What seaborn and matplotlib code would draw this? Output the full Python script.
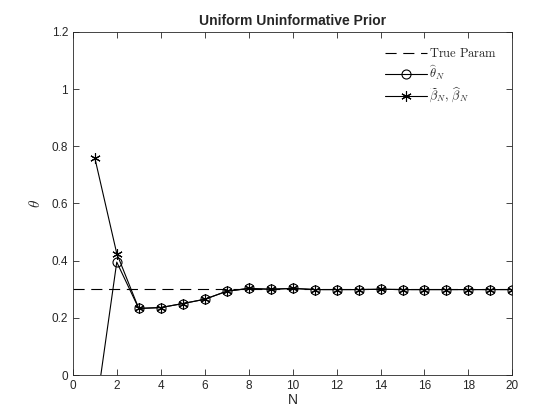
import numpy as np
import pandas as pd
import matplotlib
matplotlib.use("Agg")
import matplotlib.pyplot as plt
import seaborn as sns

# values
N = list(range(1, 21))
theta_hat = [-0.15, 0.395, 0.233, 0.236, 0.250, 0.265, 0.293, 0.303, 0.300, 0.303,
             0.299, 0.299, 0.299, 0.300, 0.299, 0.299, 0.299, 0.299, 0.299, 0.299]
beta_est = [0.76, 0.425, 0.233, 0.236, 0.250, 0.265, 0.293, 0.303, 0.300, 0.303,
            0.299, 0.299, 0.299, 0.300, 0.299, 0.299, 0.299, 0.299, 0.299, 0.299]
true_param = 0.3

sns.set_style("ticks")
plt.rcParams['font.family'] = ['Liberation Sans', 'DejaVu Sans']
plt.rcParams['mathtext.fontset'] = 'cm'

df = pd.DataFrame({"N": N, "theta": theta_hat, "beta": beta_est})

fig = plt.figure(figsize=(5.6, 4.2), dpi=100)
ax = fig.add_axes([0.13, 0.107, 0.785, 0.817])

ax.axhline(true_param, color="black", lw=0.8, ls=(0, (10, 6)), label=r"$\mathrm{True\ Param}$")
sns.lineplot(data=df, x="N", y="theta", ax=ax, color="black", lw=0.8, marker="o",
             markersize=6.5, markerfacecolor="none", markeredgecolor="black",
             markeredgewidth=0.8, label=r"$\widehat{\theta}_N$")
sns.lineplot(data=df, x="N", y="beta", ax=ax, color="black", lw=0.8, marker=(6, 2, 0),
             markersize=7.5, markeredgecolor="black", markeredgewidth=0.8,
             label=r"$\widetilde{\beta}_N,\,\widehat{\beta}_N$")

ax.set_xlim(0, 20)
ax.set_ylim(0, 1.2)
ax.set_xticks(range(0, 21, 2))
ax.set_yticks(np.arange(0, 1.21, 0.2))
ax.set_yticklabels(["0", "0.2", "0.4", "0.6", "0.8", "1", "1.2"])
ax.tick_params(direction="in", length=4, width=0.6, labelsize=8.5, colors="#262626",
               top=True, right=True)
for s in ax.spines.values():
    s.set_visible(True)
    s.set_linewidth(0.6)
    s.set_color("#262626")

ax.set_xlabel("N", fontsize=10, labelpad=1, color="#262626")
ax.set_ylabel(r"$\theta$", fontsize=11, labelpad=6, color="#262626")
ax.set_title("Uniform Uninformative Prior", fontsize=10, fontweight="bold", pad=5)

ax.legend(loc="upper right", frameon=False, fontsize=9, handlelength=3.3,
          handletextpad=0.2, labelspacing=0.3, borderaxespad=0.8)

fig.savefig("out.png", dpi=100)
